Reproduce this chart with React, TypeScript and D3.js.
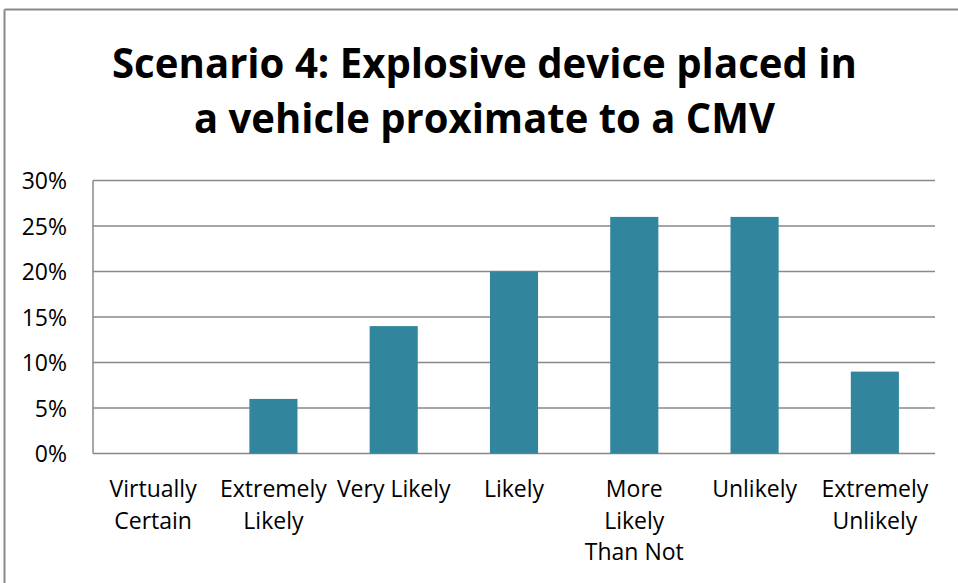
import React from "react";
import * as d3 from "d3";

const titleLines = ["Scenario 4: Explosive device placed in", "a vehicle proximate to a CMV"];
const categories = [
  ["Virtually", "Certain"],
  ["Extremely", "Likely"],
  ["Very Likely"],
  ["Likely"],
  ["More", "Likely", "Than Not"],
  ["Unlikely"],
  ["Extremely", "Unlikely"],
];
const values = [0, 0.06, 0.14, 0.2, 0.26, 0.26, 0.09];
const yTicks = [0, 0.05, 0.1, 0.15, 0.2, 0.25, 0.3];

const W = 958;
const H = 583;
const FONT = "'Open Sans', 'DejaVu Sans', sans-serif";

export default function App() {
  const left = 93;
  const right = 935;
  const top = 180.5;
  const bottom = 453.5;
  const keys = categories.map((c, i) => String(i));
  const x = d3.scaleBand<string>().domain(keys).range([left, right]).paddingInner(0.6).paddingOuter(0.3);
  const y = d3.scaleLinear().domain([0, 0.3]).range([bottom, top]);
  const fmt = d3.format(".0%");
  const titleWidths = [745, 581];

  return (
    <svg width={W} height={H} style={{ position: "absolute", left: 0, top: 0, background: "#fff" }}>
      <rect x={0} y={0} width={W} height={H} fill="#fff" />
      <line x1={4.5} y1={9.5} x2={W} y2={9.5} stroke="#898989" strokeWidth={2} />
      <line x1={4.5} y1={9.5} x2={4.5} y2={H} stroke="#898989" strokeWidth={2} />
      {titleLines.map((t, i) => (
        <text
          key={t}
          x={484.5}
          y={77.5 + i * 55}
          textAnchor="middle"
          fontFamily={FONT}
          fontWeight={700}
          fontSize={42}
          fill="#000"
          textLength={titleWidths[i]}
          lengthAdjust="spacingAndGlyphs"
        >
          {t}
        </text>
      ))}
      {yTicks.map((t) => (
        <g key={t}>
          <line x1={left} x2={right} y1={y(t)} y2={y(t)} stroke="#888" strokeWidth={1.5} />
          <text x={67} y={y(t) + 8.5} textAnchor="end" fontFamily={FONT} fontSize={23} fill="#000">
            {fmt(t)}
          </text>
        </g>
      ))}
      <line x1={left} x2={left} y1={top} y2={bottom} stroke="#888" strokeWidth={1.5} />
      {values.map((v, i) => (
        <rect
          key={i}
          x={x(String(i))}
          width={x.bandwidth()}
          y={y(v)}
          height={bottom - y(v)}
          fill="#31859C"
        />
      ))}
      {categories.map((lines, i) => (
        <text
          key={i}
          x={(x(String(i)) as number) + x.bandwidth() / 2}
          textAnchor="middle"
          fontFamily={FONT}
          fontSize={23}
          fill="#000"
        >
          {lines.map((l, j) => (
            <tspan key={j} x={(x(String(i)) as number) + x.bandwidth() / 2} y={497 + j * 31.7}>
              {l}
            </tspan>
          ))}
        </text>
      ))}
    </svg>
  );
}
